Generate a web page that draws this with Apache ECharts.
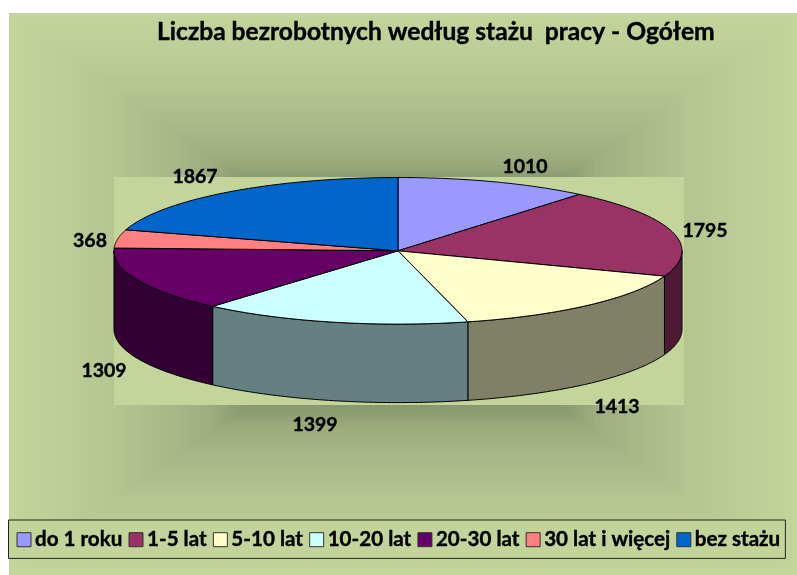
<!DOCTYPE html>
<html>
<head>
<meta charset="utf-8">
<title>Liczba bezrobotnych</title>
<style>
  html, body { margin: 0; padding: 0; background: #fff; }
  #main { width: 797px; height: 575px; }
</style>
<script src="https://cdn.jsdelivr.net/npm/echarts@6/dist/echarts.min.js"></script>
</head>
<body>
<div id="main"></div>
<script>
const categories = ['do 1 roku', '1-5 lat', '5-10 lat', '10-20 lat', '20-30 lat', '30 lat i więcej', 'bez stażu'];
const values = [1010, 1795, 1413, 1399, 1309, 368, 1867];
const colors = ['#9999FF', '#993366', '#FFFFCC', '#CCFFFF', '#660066', '#FF8080', '#0066CC'];
const wallColors = ['#4D4D80', '#4D1A33', '#808066', '#658080', '#330033', '#804040', '#003366'];
const titleText = 'Liczba bezrobotnych według stażu  pracy - Ogółem';

// layout of the drawing, not data
const pie = { cx: 398, cy: 250.8, rx: 284, ry: 73.3, depth: 78.5 };
const frame = { x: 9, y: 13, w: 788, h: 562 };
const plot = { x: 114, y: 177, w: 570, h: 228 };
const labelPos = [[525, 167], [705, 231], [617, 407], [315, 425], [104, 371], [90, 241], [195, 177]];
const total = values.reduce((a, b) => a + b, 0);
const startAngle = [];
let sum = 0;
for (let i = 0; i < values.length; i++) {
    startAngle.push(sum / total * Math.PI * 2);
    sum += values[i];
}

function rim(a, dy) {
    return [pie.cx + pie.rx * Math.sin(a), pie.cy - pie.ry * Math.cos(a) + (dy || 0)];
}

function renderSlice(i, api) {
    const a0 = startAngle[i];
    const a1 = a0 + api.value(0) / total * Math.PI * 2;
    const children = [];
    const line = { stroke: '#000', lineWidth: 1, lineJoin: 'round' };

    // only the front half of the rim shows a wall
    const w0 = Math.max(a0, Math.PI / 2);
    const w1 = Math.min(a1, Math.PI * 1.5);
    if (w1 > w0) {
        const pts = [];
        for (let k = 0; k <= 60; k++) pts.push(rim(w0 + (w1 - w0) * k / 60));
        for (let k = 60; k >= 0; k--) pts.push(rim(w0 + (w1 - w0) * k / 60, pie.depth));
        children.push({ type: 'polygon', z2: 1, shape: { points: pts }, style: Object.assign({ fill: wallColors[i] }, line) });
    }

    const top = [[pie.cx, pie.cy]];
    for (let k = 0; k <= 60; k++) top.push(rim(a0 + (a1 - a0) * k / 60));
    children.push({ type: 'polygon', z2: 2, shape: { points: top }, style: Object.assign({ fill: colors[i] }, line) });

    children.push({
        type: 'text', z2: 3, x: labelPos[i][0], y: labelPos[i][1],
        style: {
            text: String(api.value(0)), fill: '#000', stroke: '#000', lineWidth: 0.4,
            font: 'bold 19.5px Lato', align: 'center', verticalAlign: 'middle'
        }
    });
    return { type: 'group', children: children };
}

// frame fill: rectangular gradient, dark in the middle
const ramp = [[0, [120, 135, 95]], [0.4, [136, 152, 110]], [0.5, [158, 174, 128]], [0.73, [181, 197, 144]], [1, [195, 213, 155]]];
function rampColor(t) {
    let j = 0;
    while (j < ramp.length - 2 && t > ramp[j + 1][0]) j++;
    const f = (t - ramp[j][0]) / (ramp[j + 1][0] - ramp[j][0]);
    const c = ramp[j][1].map((v, n) => Math.round(v + (ramp[j + 1][1][n] - v) * f));
    return 'rgb(' + c.join(',') + ')';
}
const backdrop = [];
for (let s = 0; s < 70; s++) {
    const t = 1 - s / 70;
    backdrop.push({
        type: 'rect', silent: true,
        shape: {
            x: frame.x + frame.w / 2 * (1 - t), y: frame.y + frame.h / 2 * (1 - t),
            width: frame.w * t, height: frame.h * t
        },
        style: { fill: rampColor(t) }
    });
}
backdrop.push({
    type: 'rect', silent: true,
    shape: { x: plot.x, y: plot.y, width: plot.w, height: plot.h },
    style: { fill: '#C3D59B' }
});

let myChart = echarts.init(document.getElementById('main'), null, { renderer: 'canvas' });
myChart.setOption({
    animation: false,
    backgroundColor: '#fff',
    title: {
        text: titleText,
        left: 152, top: 15,
        textStyle: {
            fontFamily: 'Lato', fontWeight: 'bold', fontSize: 24.6, color: '#000',
            textBorderColor: '#000', textBorderWidth: 0.4
        }
    },
    legend: {
        left: 8.5, top: 520,
        padding: [9, 5, 8, 8],
        itemWidth: 14, itemHeight: 14, itemGap: 6,
        backgroundColor: '#C2D49A',
        borderColor: '#222', borderWidth: 1,
        selectedMode: false,
        icon: 'rect',
        itemStyle: { borderColor: '#333', borderWidth: 1 },
        textStyle: {
            fontFamily: 'Lato', fontWeight: 'bold', fontSize: 20.6, color: '#000', padding: [0, 0, 0, -1],
            textBorderColor: '#000', textBorderWidth: 0.4
        },
        data: categories
    },
    graphic: { elements: backdrop },
    series: categories.map((name, i) => ({
        type: 'custom',
        name: name,
        coordinateSystem: 'none',
        silent: true,
        itemStyle: { color: colors[i] },
        data: [values[i]],
        renderItem: (params, api) => renderSlice(i, api)
    }))
});
</script>
</body>
</html>
